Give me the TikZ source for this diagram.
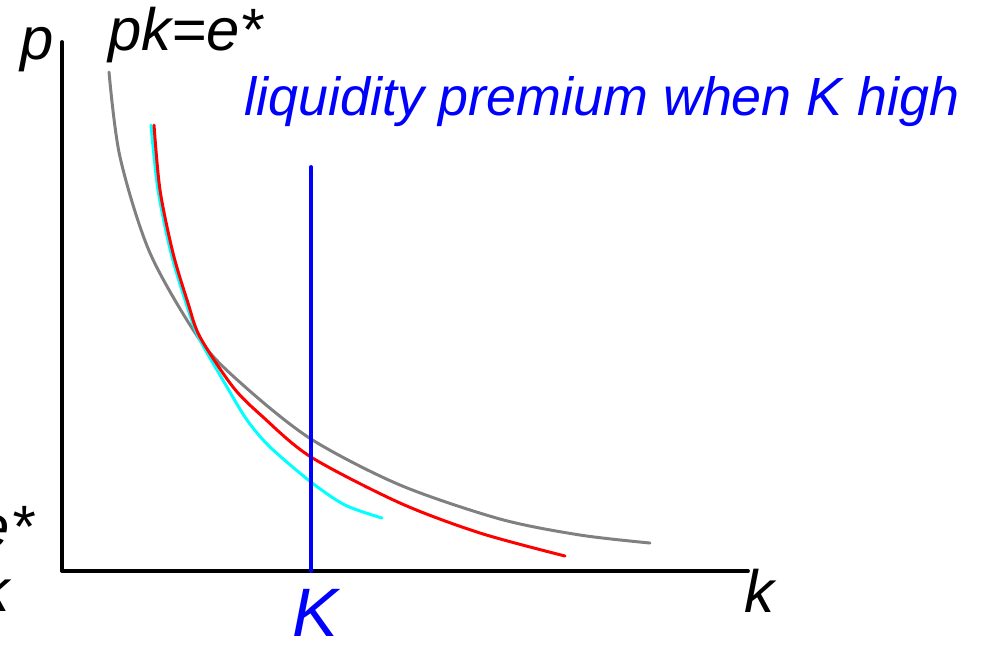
\documentclass[tikz,border=0pt]{standalone}
\usepackage{fontspec}
\setmainfont{Liberation Sans}
\definecolor{aqua}{RGB}{0,255,255}
\definecolor{midgray}{RGB}{128,128,128}
\newcommand{\fsz}[1]{\fontsize{#1}{#1}\selectfont\itshape}
\begin{document}
\begin{tikzpicture}[x=0.01cm,y=-0.01cm,line join=round,line cap=round,
    curve/.style={line width=0.85pt},
    lbl/.style={inner sep=0pt}]
    \useasboundingbox (0,0) rectangle (982,644);
    \coordinate (O) at (62,571);
    \coordinate (ytop) at (62,42);
    \coordinate (xend) at (748,571);
    \coordinate (Ktop) at (311,167);
    \coordinate (Kbot) at (311,571);
    \draw[line width=1.1pt] (ytop) -- (O) -- (xend);
    \node[lbl,anchor=base] (plab) at (37,59) {\fsz{17}p};
    \node[lbl,anchor=base west] (klab) at (744,612) {\fsz{17}k};
    \node[lbl,anchor=base west] (pke) at (108,50) {\fsz{17}pk=e*};
    \node[lbl,anchor=base east] (estar) at (34,547) {\fsz{17}e*};
    \node[lbl,anchor=base east] (kcut) at (10,611) {\fsz{17}k};
    \node[lbl,anchor=base west,blue] (prem) at (244,115) {\fsz{15.3}liquidity premium when K high};
    \node[lbl,anchor=base west,blue,text depth=0pt] (Klab) at (292,636) {\fsz{19.5}K};
    % curves
    \draw[curve,midgray] plot[smooth] coordinates {(109,72) (120,157) (150,253) (200,340) (243,385) (311,439) (400,485) (500,519) (580,535) (650,543)};
    \draw[curve,aqua] plot[smooth] coordinates {(151,125) (158,190) (171,253) (186,303) (199,338) (227,387) (247,420) (270,447) (311,482) (345,505) (382,518)};
    \draw[curve,red] plot[smooth] coordinates {(154,125) (160,190) (173,253) (188,303) (200,337) (233,387) (263,417) (311,457) (400,503) (480,533) (565,556)};
    \draw[line width=1.1pt,blue] (Ktop) -- (Kbot);
\end{tikzpicture}
\end{document}
